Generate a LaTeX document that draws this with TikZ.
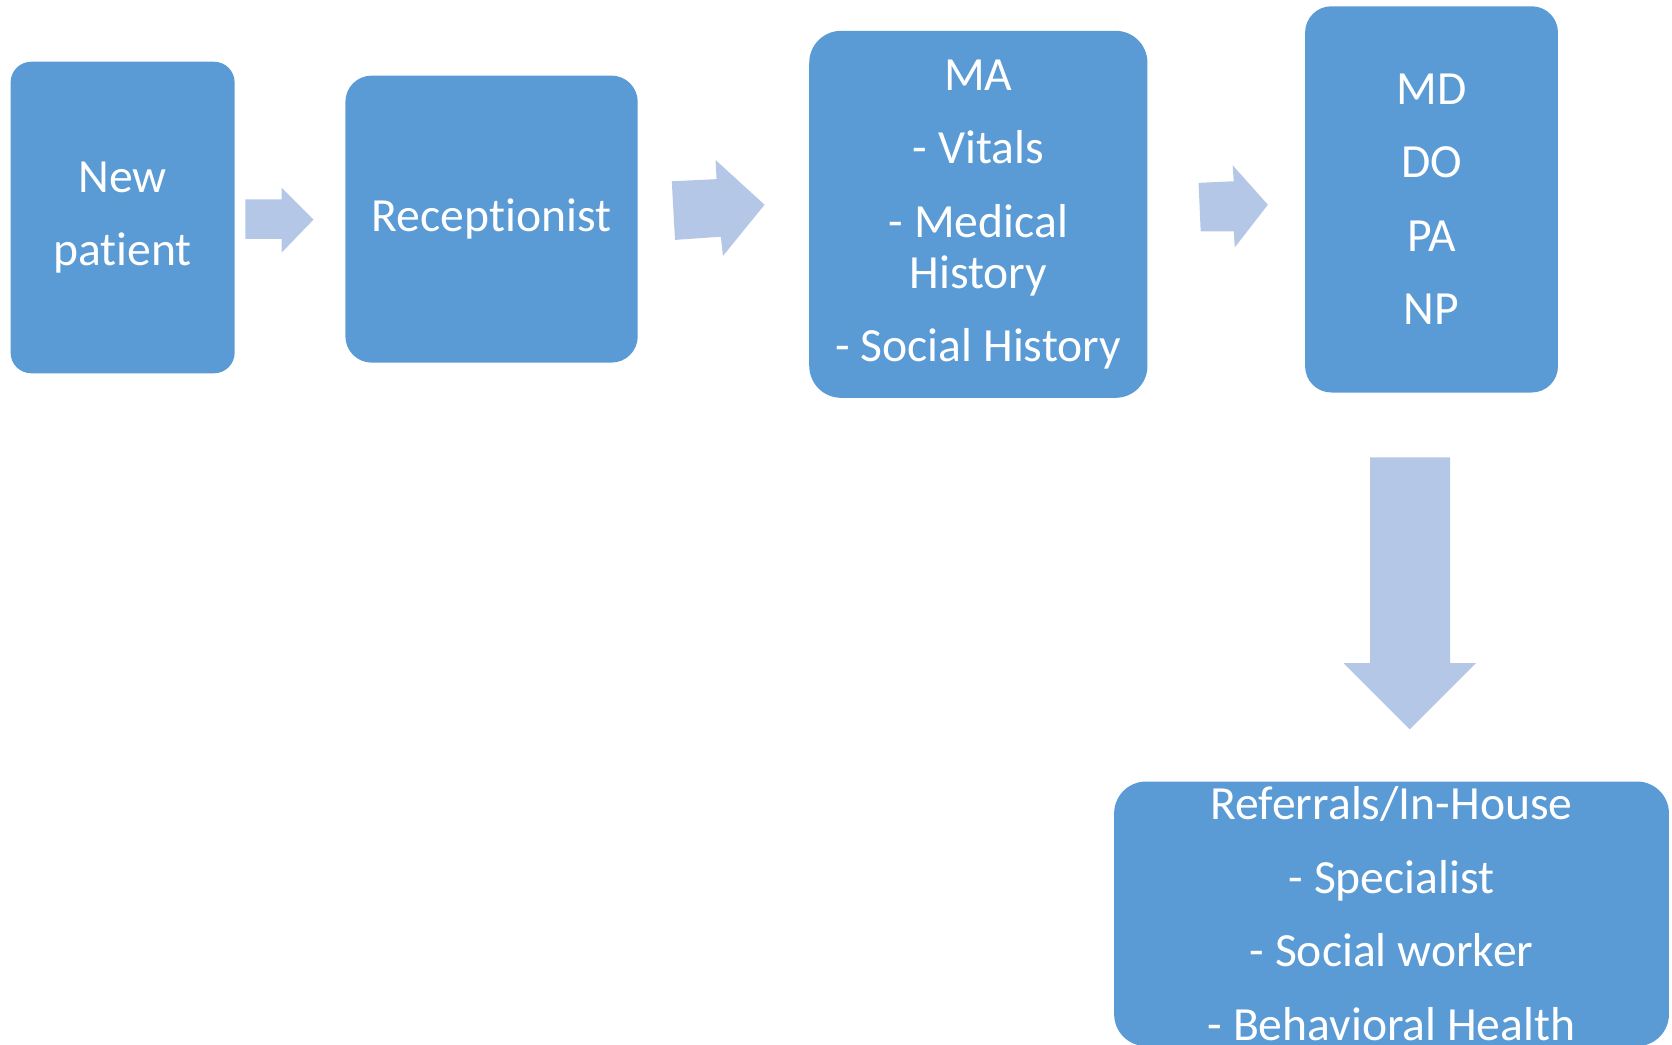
\documentclass[tikz,border=0pt]{standalone}
\usepackage{fontspec}
\setmainfont[Ligatures={NoCommon,NoRare}]{Carlito}
\usetikzlibrary{positioning}
\definecolor{boxblue}{HTML}{5B9BD5}
\definecolor{arrowblue}{HTML}{B4C7E7}

\begin{document}
\begin{tikzpicture}[x=0.01cm,y=-0.01cm,
    stage/.style={fill=boxblue, text=white, align=center, inner sep=0pt,
      font=\fontsize{12.7}{19.6}\selectfont},
    flow/.style={fill=arrowblue}]
    \useasboundingbox (0,0) rectangle (1568,980);
    % boxes
    \node[stage, minimum width=2.10cm, minimum height=2.92cm, rounded corners=5.5pt] (new) at (115,204) {New\\patient};
    \node[stage, minimum width=2.74cm, minimum height=2.69cm, rounded corners=7pt] (recep) at (461,205.5) {Receptionist};
    \node[stage, minimum width=3.17cm, minimum height=3.44cm, rounded corners=8.5pt] (ma) at (917.5,201)
      {MA\\- Vitals\\- Medical\\[-6pt]History\\- Social History};
    \node[stage, minimum width=2.37cm, minimum height=3.62cm, rounded corners=7pt] (md) at (1342.5,187) {MD\\DO\\PA\\NP};
    \node[stage, minimum width=5.20cm, minimum height=2.48cm, rounded corners=8.5pt] (refer) at (1305,857)
      {Referrals/In-House\\- Specialist\\- Social worker\\- Behavioral Health};
    % block arrows
    \fill[flow] (230,187) -- (264,187) -- (264,176) -- (294,206) -- (264,237) -- (264,224) -- (230,224) -- cycle;
    \fill[flow] (630,170) -- (672,168) -- (671,150) -- (717,192) -- (678,240) -- (676,222) -- (633,225) -- cycle;
    \fill[flow] (1124,171.5) -- (1157,170) -- (1156,155) -- (1189,192) -- (1158,232) -- (1157,217) -- (1126,217) -- cycle;
    \fill[flow] (1285,429) -- (1360,429) -- (1360,622) -- (1384,622) -- (1322,684) -- (1260,622) -- (1285,622) -- cycle;
  \end{tikzpicture}
\end{document}
